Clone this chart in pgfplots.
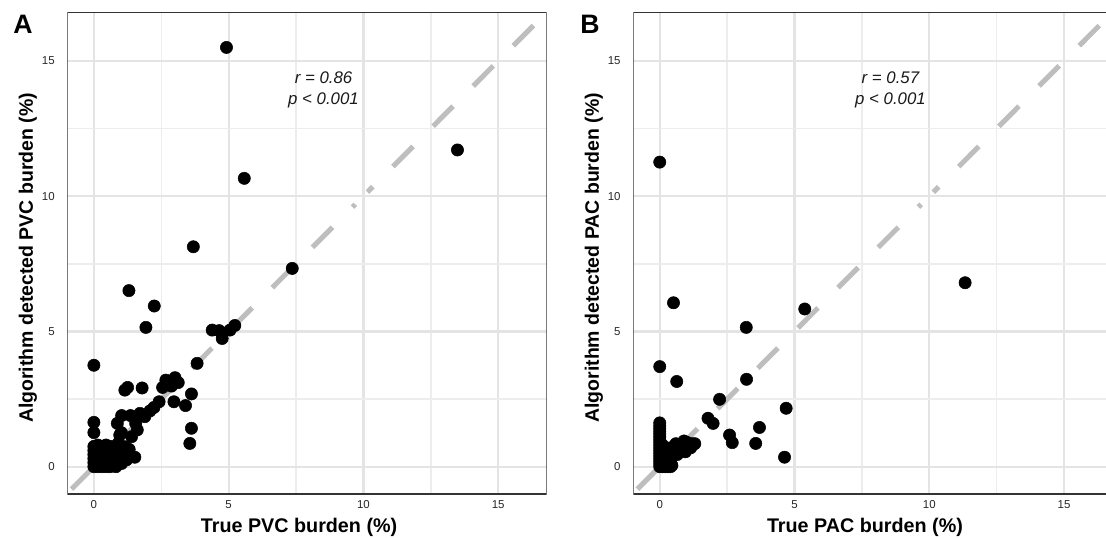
\documentclass[border=0pt]{standalone}
\usepackage{pgfplots}
\pgfplotsset{compat=1.18}
\usepackage{fontspec}
\setmainfont{Liberation Sans}

\definecolor{gridmaj}{HTML}{E4E4E4}
\definecolor{gridmin}{HTML}{EDEDED}
\definecolor{diag}{HTML}{BEBEBE}
\definecolor{frame}{HTML}{333333}

\tikzset{note/.style={align=center, font=\fontsize{12.6}{16}\selectfont\itshape, text=black!90}}

\pgfplotsset{
  panel/.style={
    anchor=south west,
    scale only axis,
    width=359.4pt, height=361.3pt,
    xmin=-0.98, xmax=16.8, ymin=-1.01, ymax=16.8,
    xtick={0,5,10,15}, ytick={0,5,10,15},
    minor xtick={2.5,7.5,12.5}, minor ytick={2.5,7.5,12.5},
    grid=both,
    major grid style={draw=gridmaj, line width=1.7pt},
    minor grid style={draw=gridmin, line width=1.1pt},
    major tick length=0pt, minor tick length=0pt,
    axis line style={draw=none},
    /pgf/number format/assume math mode=true,
    ticklabel style={font=\fontsize{8.6}{10}\selectfont, text=black!85},
    xticklabel style={anchor=north, inner sep=0pt, yshift=-4.5pt},
    yticklabel style={anchor=east, inner sep=0pt, xshift=-9.4pt},
    every axis x label/.style={at={(axis description cs:0.4833,-0.0685)}, anchor=center,
      font=\fontsize{14.8}{17}\selectfont\bfseries},
    every axis y label/.style={at={(axis description cs:-0.0824,0.49)}, anchor=center, rotate=90,
      font=\fontsize{14.6}{17}\selectfont\bfseries},
  },
  dots/.style={only marks, mark=*, mark size=4.6pt, mark options={fill=black, draw=black}},
  diagA/.style={draw=diag, line width=3.8pt, dash pattern=on 21.33pt off 21.33pt, dash phase=38.36pt},
  diagB/.style={draw=diag, line width=3.8pt, dash pattern=on 21.33pt off 21.33pt, dash phase=15.6pt},
}

\begin{document}
\begin{tikzpicture}

% ---- A: PVC
\begin{axis}[panel, at={(50.6pt,32.25pt)},
  xlabel={True PVC burden (\%)},
  ylabel={Algorithm detected PVC burden (\%)}]
\addplot[diagA] coordinates {(-0.98,-0.98) (9.7,9.7)};
\addplot[diagB] coordinates {(10.15,10.15) (16.8,16.8)};
\addplot[dots] coordinates {
 (4.92,15.50)(13.49,11.71)(5.58,10.66)(3.69,8.13)(7.36,7.33)(1.30,6.51)
 (2.24,5.94)(1.93,5.15)(4.39,5.05)(4.65,5.03)(4.76,4.74)(5.05,5.05)(5.23,5.22)
 (0,3.75)(3.83,3.82)
 (2.67,3.20)(3.01,3.29)(2.55,2.93)(2.88,2.98)(3.13,3.11)
 (1.15,2.83)(1.25,2.93)(1.79,2.91)(3.62,2.69)(2.97,2.40)(2.42,2.40)(3.40,2.26)
 (2.23,2.19)(2.08,2.06)(1.71,1.97)(1.89,1.85)(3.62,1.42)(3.56,0.86)
 (0,1.64)(0,1.26)(1.03,1.89)(1.36,1.89)(0.87,1.60)(1.61,1.36)(1.02,1.26)
 (0.96,1.17)(1.40,1.11)(1.31,0.64)(1.52,0.35)(0.82,0)(1.21,0.25)
 (0.90,0.86)(1.15,0.74)(1.09,0.49)(1.03,0.12)(1.55,1.60)
 (0,0)(0,0.15)(0,0.30)(0,0.45)(0,0.60)(0,0.75)
 (0.15,0)(0.15,0.20)(0.15,0.40)(0.15,0.60)(0.15,0.80)
 (0.30,0)(0.30,0.15)(0.30,0.35)(0.30,0.55)(0.30,0.75)
 (0.45,0)(0.45,0.20)(0.45,0.40)(0.45,0.60)(0.45,0.80)
 (0.60,0)(0.60,0.15)(0.60,0.35)(0.60,0.55)(0.60,0.75)
 (0.75,0.20)(0.75,0.45)(0.75,0.70)(0.90,0.45)
};
\node[note] at (axis cs:8.52,13.93) {r = 0.86\\p < 0.001};
\draw[frame, line width=1.1pt] (rel axis cs:0,0) rectangle (rel axis cs:1,1);
\end{axis}

% ---- B: PAC
\begin{axis}[panel, at={(475pt,32.25pt)},
  xlabel={True PAC burden (\%)},
  ylabel={Algorithm detected PAC burden (\%)}]
\addplot[diagA] coordinates {(-0.98,-0.98) (9.7,9.7)};
\addplot[diagB] coordinates {(10.15,10.15) (16.8,16.8)};
\addplot[dots] coordinates {
 (0,11.26)(11.33,6.80)(0.51,6.06)(5.38,5.83)(3.21,5.15)(0,3.70)(0.63,3.15)
 (3.22,3.23)(2.22,2.49)(4.69,2.16)(1.79,1.79)(1.98,1.60)(3.70,1.45)
 (2.59,1.17)(2.69,0.89)(3.56,0.86)(4.63,0.35)
 (0,0)(0,0.1)(0,0.2)(0,0.3)(0,0.4)(0,0.5)(0,0.6)(0,0.7)(0,0.8)(0,0.9)
 (0,1.0)(0,1.1)(0,1.2)(0,1.3)(0,1.4)(0,1.5)(0,1.62)
 (0.1,0)(0.1,0.2)(0.1,0.4)(0.1,0.6)(0.1,0.8)
 (0.2,0)(0.2,0.15)(0.2,0.35)(0.2,0.55)(0.2,0.7)
 (0.3,0)(0.3,0.2)(0.3,0.4)(0.3,0.6)
 (0.4,0)(0.4,0.25)(0.4,0.5)(0.4,0.7)(0.45,0.05)
 (0.5,0.55)(0.55,0.75)(0.6,0.85)(0.7,0.6)(0.75,0.8)(0.85,0.7)(0.9,0.95)
 (1.0,0.9)(1.05,0.75)(1.15,0.7)(1.2,0.85)(1.3,0.85)(0.95,0.55)(0.65,0.45)
};
\node[note] at (axis cs:8.56,13.93) {r = 0.57\\p < 0.001};
\draw[frame, line width=1.1pt] (rel axis cs:0,0) rectangle (rel axis cs:1,1);
\end{axis}

\node[font=\fontsize{20}{24}\selectfont\bfseries] at (17.25pt,384.4pt) {A};
\node[font=\fontsize{20}{24}\selectfont\bfseries] at (442.5pt,384.75pt) {B};

\pgfresetboundingbox
\useasboundingbox (0,0) rectangle (829.5pt,402.75pt);
\end{tikzpicture}
\end{document}
